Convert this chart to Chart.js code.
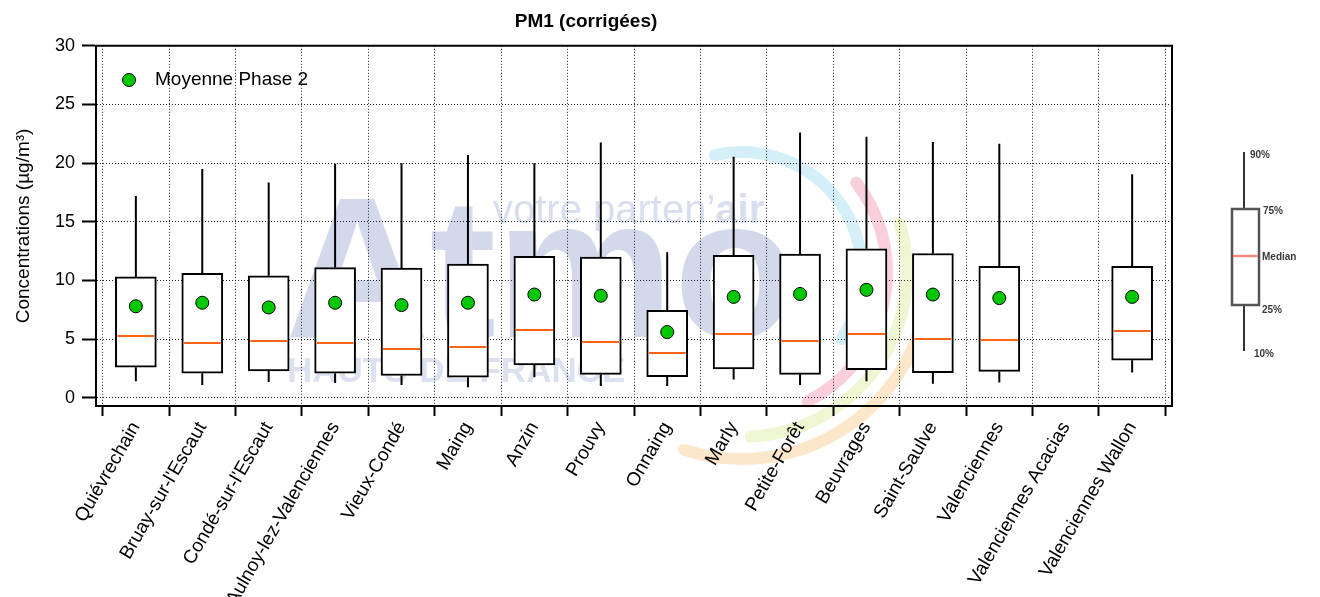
<!DOCTYPE html>
<html lang="fr">
<head>
<meta charset="utf-8">
<title>PM1 (corrigées)</title>
<script src="https://cdn.jsdelivr.net/npm/chart.js@4.4.1/dist/chart.umd.min.js"></script>
<style>
  html, body { margin: 0; padding: 0; background: #ffffff; }
  #wrap { width: 1320px; height: 597px; }
</style>
</head>
<body>
<div id="wrap"><canvas id="pm1-chart" width="1320" height="597"></canvas></div>
<script>
// ===== DATA =====
const categories = [
  "Quiévrechain", "Bruay-sur-l'Escaut", "Condé-sur-l'Escaut", "Aulnoy-lez-Valenciennes",
  "Vieux-Condé", "Maing", "Anzin", "Prouvy", "Onnaing", "Marly", "Petite-Forêt",
  "Beuvrages", "Saint-Saulve", "Valenciennes", "Valenciennes Acacias", "Valenciennes Wallon",
];
const p10Values    = [1.4, 1.1, 1.35, 1.25, 1.1, 0.9, 1.75, 1.0, 1.0, 1.55, 1.1, 1.4, 1.2, 1.3, null, 2.15];
const q1Values     = [2.6, 2.1, 2.3, 2.1, 1.9, 1.75, 2.8, 2.0, 1.8, 2.45, 2.0, 2.4, 2.15, 2.25, null, 3.2];
const medianValues = [5.3, 4.7, 4.8, 4.7, 4.15, 4.3, 5.8, 4.75, 3.8, 5.4, 4.8, 5.4, 5.05, 4.9, null, 5.7];
const q3Values     = [10.3, 10.6, 10.4, 11.1, 11.05, 11.4, 12.05, 12.0, 7.45, 12.15, 12.25, 12.7, 12.3, 11.2, null, 11.2];
const p90Values    = [17.2, 19.5, 18.35, 19.95, 20.0, 20.7, 20.0, 21.75, 12.4, 20.55, 22.6, 22.25, 21.8, 21.65, null, 19.05];
const meanValues   = [7.8, 8.1, 7.7, 8.1, 7.9, 8.1, 8.8, 8.7, 5.6, 8.6, 8.85, 9.2, 8.8, 8.5, null, 8.6];
const yTickValues  = [0, 5, 10, 15, 20, 25, 30];
const keyLabels    = ["90%", "75%", "Median", "25%", "10%"];

// ===== STYLE =====
const FONT = "'Liberation Sans', Arial, sans-serif";
const COLORS = {
  ink: "#000000",
  grid: "#222222",
  median: "#ff6414",
  mean: "#00c800",
  boxFill: "#ffffff",
};
Chart.defaults.font.family = FONT;
Chart.defaults.color = COLORS.ink;

// ===== PLUGINS =====
// faded logo behind the plot
const watermarkPlugin = {
  id: "watermark",
  beforeDraw(chart) {
    const ctx = chart.ctx;
    ctx.save();
    ctx.textBaseline = "alphabetic";
    ctx.textAlign = "left";
    ctx.fillStyle = "#d3d9ea";
    ctx.font = "bold 200px " + FONT;
    ctx.fillText("Atmo", 285, 337);

    ctx.fillStyle = "#d9deee";
    ctx.font = "40px " + FONT;
    const lead = "votre parten\u2019";
    ctx.fillText(lead, 493, 223);
    const leadWidth = ctx.measureText(lead).width;
    ctx.font = "bold 40px " + FONT;
    ctx.fillText("air", 493 + leadWidth, 223);

    ctx.fillStyle = "#dce1f0";
    ctx.font = "bold 35px " + FONT;
    ctx.fillText("HAUTS-DE-FRANCE", 287, 382);

    const arcs = [
      { r: 120, from: -103, to: 34, color: "#d5eff8" },
      { r: 145, from: -38, to: 63, color: "#f9d0da" },
      { r: 165, from: -17, to: 87, color: "#eff6d2" },
      { r: 187, from: 18, to: 108, color: "#fde7cb" },
    ];
    ctx.lineWidth = 12;
    ctx.lineCap = "round";
    arcs.forEach((a) => {
      ctx.strokeStyle = a.color;
      ctx.beginPath();
      ctx.arc(742, 272, a.r, (a.from * Math.PI) / 180, (a.to * Math.PI) / 180);
      ctx.stroke();
    });
    ctx.restore();
  },
};

// whiskers and medians on top of the box bars
const boxDetailsPlugin = {
  id: "boxDetails",
  afterDatasetDraw(chart, args) {
    if (args.index !== 0) return;
    const { ctx, scales } = chart;
    const half = args.meta.data.length ? args.meta.data[0].width / 2 : 20;
    ctx.save();
    categories.forEach((_, i) => {
      if (medianValues[i] == null) return;
      const x = scales.x.getPixelForValue(i);
      ctx.strokeStyle = COLORS.ink;
      ctx.lineWidth = 2;
      ctx.beginPath();
      ctx.moveTo(x, scales.y.getPixelForValue(q3Values[i]));
      ctx.lineTo(x, scales.y.getPixelForValue(p90Values[i]));
      ctx.moveTo(x, scales.y.getPixelForValue(q1Values[i]));
      ctx.lineTo(x, scales.y.getPixelForValue(p10Values[i]));
      ctx.stroke();

      const ym = Math.round(scales.y.getPixelForValue(medianValues[i]));
      ctx.strokeStyle = COLORS.median;
      ctx.beginPath();
      ctx.moveTo(x - half + 2, ym);
      ctx.lineTo(x + half - 2, ym);
      ctx.stroke();
    });
    ctx.restore();
  },
};

// frame, legend for the mean and the percentile key on the right
const decorPlugin = {
  id: "decor",
  afterDraw(chart) {
    const { ctx, chartArea } = chart;
    ctx.save();
    ctx.strokeStyle = COLORS.ink;
    ctx.lineWidth = 2;
    ctx.beginPath();
    ctx.moveTo(chartArea.left, chartArea.top);
    ctx.lineTo(chartArea.right, chartArea.top);
    ctx.lineTo(chartArea.right, chartArea.bottom);
    ctx.stroke();

    // mean legend
    const meanSet = chart.data.datasets[1];
    ctx.beginPath();
    ctx.arc(129, 80, 6.5, 0, Math.PI * 2);
    ctx.fillStyle = meanSet.pointBackgroundColor;
    ctx.fill();
    ctx.lineWidth = 1;
    ctx.stroke();
    ctx.fillStyle = COLORS.ink;
    ctx.font = "19px " + FONT;
    ctx.textBaseline = "middle";
    ctx.fillText(meanSet.label, 155, 80);

    // percentile key
    ctx.strokeStyle = "#333333";
    ctx.lineWidth = 2;
    ctx.beginPath();
    ctx.moveTo(1244, 152);
    ctx.lineTo(1244, 209);
    ctx.moveTo(1244, 305);
    ctx.lineTo(1244, 351);
    ctx.stroke();
    ctx.strokeStyle = "#555555";
    ctx.lineWidth = 2.5;
    ctx.strokeRect(1232, 209, 27, 96);
    ctx.strokeStyle = "#f28a8a";
    ctx.beginPath();
    ctx.moveTo(1233, 256);
    ctx.lineTo(1258, 256);
    ctx.stroke();
    ctx.fillStyle = "#3a3a3a";
    ctx.font = "bold 10px " + FONT;
    const keyPos = [[1250, 155], [1263, 211], [1262, 257], [1262, 310], [1254, 354]];
    keyLabels.forEach((t, i) => ctx.fillText(t, keyPos[i][0], keyPos[i][1]));
    ctx.restore();
  },
};

// ===== CHART =====
function initializeChart() {
  const boxData = [];
  const meanData = [];
  categories.forEach((_, i) => {
    if (q1Values[i] != null) boxData.push({ x: i, y: [q1Values[i], q3Values[i]] });
    if (meanValues[i] != null) meanData.push({ x: i, y: meanValues[i] });
  });

  new Chart(document.getElementById("pm1-chart").getContext("2d"), {
    type: "bar",
    data: {
      datasets: [
        {
          label: "Boîtes 25-75%",
          data: boxData,
          backgroundColor: COLORS.boxFill,
          borderColor: COLORS.ink,
          borderWidth: 2,
          borderSkipped: false,
          barThickness: 41,
          order: 2,
        },
        {
          type: "scatter",
          label: "Moyenne Phase 2",
          data: meanData,
          pointRadius: 6.5,
          pointBackgroundColor: COLORS.mean,
          pointBorderColor: COLORS.ink,
          pointBorderWidth: 1,
          order: 1,
        },
      ],
    },
    options: {
      responsive: false,
      animation: false,
      layout: { padding: { top: 0, right: 148, bottom: 0, left: 0 } },
      plugins: {
        legend: { display: false },
        tooltip: { enabled: false },
        title: {
          display: true,
          text: "PM1 (corrigées)",
          color: COLORS.ink,
          font: { size: 19, weight: "bold" },
          padding: { top: 10, bottom: 13 },
        },
      },
      scales: {
        x: {
          type: "linear",
          offset: false,
          min: -0.6,
          max: 15.6,
          afterBuildTicks: (axis) => {
            axis.ticks = categories.map((_, i) => ({ value: i }));
          },
          afterFit: (axis) => {
            axis.height = 191;
          },
          grid: {
            offset: true,
            color: COLORS.grid,
            lineWidth: 1,
            tickLength: 10,
            tickColor: COLORS.ink,
            tickWidth: 2,
            tickBorderDash: [],
          },
          border: { display: true, color: COLORS.ink, width: 2, dash: [1, 2] },
          ticks: {
            autoSkip: false,
            minRotation: 60,
            maxRotation: 60,
            padding: 2,
            color: COLORS.ink,
            font: { size: 19 },
            callback: (value, index) => categories[index],
          },
        },
        y: {
          min: -0.7,
          max: 30,
          afterBuildTicks: (axis) => {
            axis.ticks = yTickValues.map((v) => ({ value: v }));
          },
          afterFit: (axis) => {
            axis.width = 96;
          },
          grid: {
            color: COLORS.grid,
            lineWidth: 1,
            tickLength: 14,
            tickColor: COLORS.ink,
            tickWidth: 2,
            tickBorderDash: [],
          },
          border: { display: true, color: COLORS.ink, width: 2, dash: [1, 2] },
          ticks: { padding: 7, color: COLORS.ink, font: { size: 18 } },
          title: {
            display: true,
            text: "Concentrations (µg/m³)",
            color: COLORS.ink,
            font: { size: 19 },
            padding: { top: 12, bottom: 0 },
          },
        },
      },
    },
    plugins: [watermarkPlugin, boxDetailsPlugin, decorPlugin],
  });
}

initializeChart();
</script>
</body>
</html>
